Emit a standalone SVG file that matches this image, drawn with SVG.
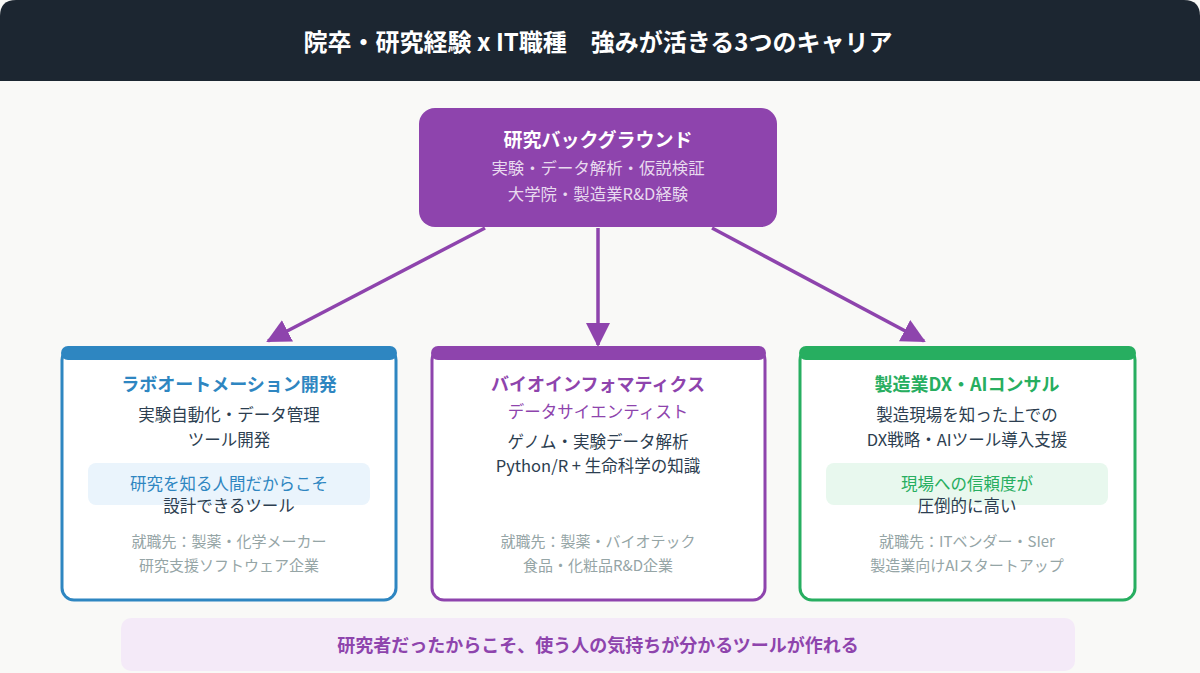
<svg xmlns="http://www.w3.org/2000/svg" width="1200" height="673" viewBox="0 0 1200 673">
<defs>
<style>
text{font-family:"Noto Sans CJK JP","Noto Sans",sans-serif;text-anchor:middle}
.t{font-size:18px;font-weight:700}
.b{font-size:16.5px;fill:#2c3e50}
.g{font-size:15px;fill:#95a5a6}
.sub{font-size:16.4px;fill:#e8daef}
.card{fill:#ffffff;stroke-width:3}
.conn{stroke:#8e44ad;stroke-width:3.5;fill:none}
</style>
<marker id="ah" markerUnits="userSpaceOnUse" viewBox="0 0 24 24" refX="22" refY="12" markerWidth="24" markerHeight="24" orient="auto">
<path d="M0,0 L24,12 L0,24 Z" fill="#8e44ad"/>
</marker>
</defs>
<rect width="1200" height="673" fill="#f9f9f7"/>
<g id="header">
<path d="M0,16 Q0,0 16,0 L1184,0 Q1200,0 1200,16 L1200,81 L0,81 Z" fill="#1c2631"/>
<text x="598" y="51" style="font-size:24px;font-weight:700;fill:#ffffff">院卒・研究経験 x IT職種　強みが活きる3つのキャリア</text>
</g>
<g id="connectors">
<line class="conn" x1="485" y1="228" x2="268" y2="341" marker-end="url(#ah)"/>
<line class="conn" x1="598" y1="228" x2="598" y2="345" marker-end="url(#ah)"/>
<line class="conn" x1="712" y1="228" x2="924" y2="341" marker-end="url(#ah)"/>
</g>
<g id="background">
<rect x="419" y="108" width="358" height="119" rx="16" fill="#8e44ad"/>
<text class="t" x="598" y="147" style="font-size:19px" fill="#ffffff">研究バックグラウンド</text>
<text class="sub" x="598" y="174">実験・データ解析・仮説検証</text>
<text class="sub" x="598" y="200">大学院・製造業R&amp;D経験</text>
</g>
<g id="labauto">
<rect class="card" x="62" y="348" width="334" height="252" rx="12" stroke="#2e86c1"/>
<rect x="61" y="346" width="336" height="14" rx="7" fill="#2e86c1"/>
<text class="t" x="229" y="391" fill="#2e86c1">ラボオートメーション開発</text>
<text class="b" x="229" y="421">実験自動化・データ管理</text>
<text class="b" x="229" y="446">ツール開発</text>
<rect x="88" y="463" width="282" height="42" rx="8" fill="#eaf4fc"/>
<text x="229" y="490" style="font-size:16.5px;fill:#2e86c1">研究を知る人間だからこそ</text>
<text class="b" x="229" y="512">設計できるツール</text>
<text class="g" x="229" y="547">就職先：製薬・化学メーカー</text>
<text class="g" x="229" y="571">研究支援ソフトウェア企業</text>
</g>
<g id="bioinfo">
<rect class="card" x="432" y="348" width="333" height="252" rx="12" stroke="#8e44ad"/>
<rect x="431" y="346" width="335" height="14" rx="7" fill="#8e44ad"/>
<text class="t" x="598" y="391" fill="#8e44ad">バイオインフォマティクス</text>
<text x="598" y="418" style="font-size:16.5px;fill:#8e44ad">データサイエンティスト</text>
<text class="b" x="598" y="448">ゲノム・実験データ解析</text>
<text class="b" x="598" y="472">Python/R + 生命科学の知識</text>
<text class="g" x="598" y="547">就職先：製薬・バイオテック</text>
<text class="g" x="598" y="571">食品・化粧品R&amp;D企業</text>
</g>
<g id="dxconsul">
<rect class="card" x="800" y="348" width="335" height="252" rx="12" stroke="#27ae60"/>
<rect x="799" y="346" width="337" height="14" rx="7" fill="#27ae60"/>
<text class="t" x="967" y="391" fill="#27ae60">製造業DX・AIコンサル</text>
<text class="b" x="967" y="421">製造現場を知った上での</text>
<text class="b" x="967" y="446">DX戦略・AIツール導入支援</text>
<rect x="826" y="463" width="282" height="42" rx="8" fill="#e8f8ee"/>
<text x="967" y="490" style="font-size:16.5px;fill:#27ae60">現場への信頼度が</text>
<text class="b" x="967" y="512">圧倒的に高い</text>
<text class="g" x="967" y="547">就職先：ITベンダー・SIer</text>
<text class="g" x="967" y="571">製造業向けAIスタートアップ</text>
</g>
<g id="banner">
<rect x="121" y="618" width="954" height="53" rx="10" fill="#f4eaf8"/>
<text x="598" y="652" style="font-size:18px;font-weight:700;fill:#8e44ad">研究者だったからこそ、使う人の気持ちが分かるツールが作れる</text>
</g>
</svg>
